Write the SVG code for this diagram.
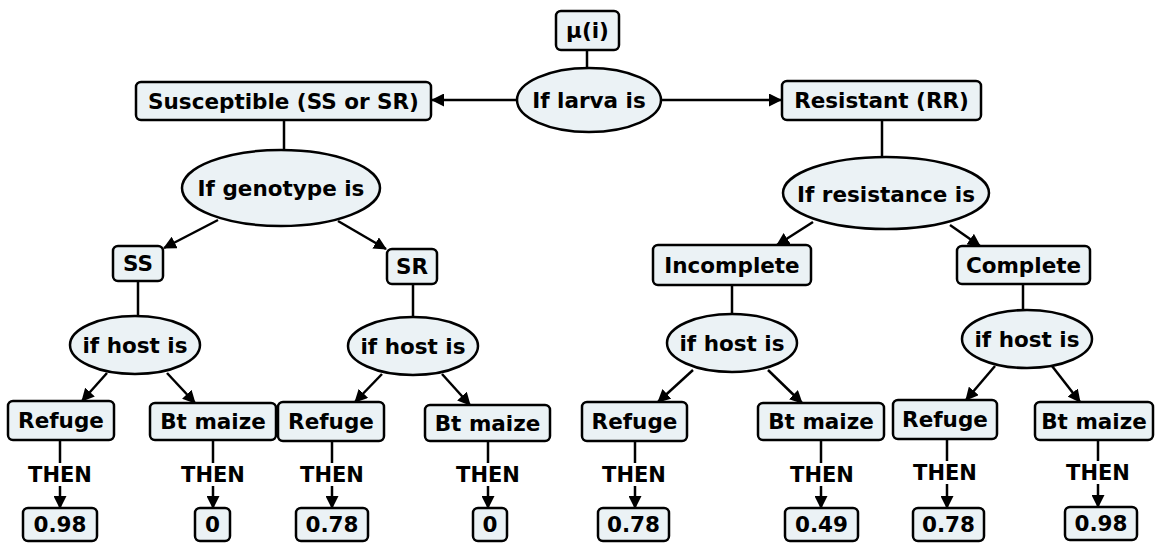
<svg xmlns="http://www.w3.org/2000/svg" width="1157" height="543" viewBox="0 0 1157 543">
<style>
.b{fill:#ebf2f5;stroke:#000;stroke-width:2.5}
.t{font-family:"DejaVu Sans","Liberation Sans",sans-serif;font-weight:bold;font-size:21.5px;text-anchor:middle;dominant-baseline:central;fill:#000}
.l{font-family:"DejaVu Sans","Liberation Sans",sans-serif;font-weight:bold;font-size:21px;text-anchor:middle;fill:#000}
.c{stroke:#000;stroke-width:2.5;fill:none}
.a{stroke:#000;stroke-width:2.5;fill:none;marker-end:url(#ah)}
</style>
<defs>
<marker id="ah" markerWidth="13" markerHeight="13" refX="12" refY="6.5" orient="auto" markerUnits="userSpaceOnUse"><path d="M0,0 L13,6.5 L0,13 z" fill="#000"/></marker>
</defs>
<rect width="1157" height="543" fill="#fff"/>
<g id="connectors">
<line class="c" x1="587" y1="50" x2="587" y2="68"/>
<line class="a" x1="517" y1="100" x2="432" y2="100"/>
<line class="a" x1="661" y1="100" x2="781" y2="100"/>
<line class="c" x1="284" y1="120" x2="284" y2="150"/>
<line class="c" x1="882" y1="120" x2="882" y2="157"/>
<line class="a" x1="218" y1="220" x2="164" y2="248"/>
<line class="a" x1="338" y1="221" x2="386" y2="249"/>
<line class="a" x1="813" y1="222" x2="777" y2="245"/>
<line class="a" x1="950" y1="225" x2="980" y2="246"/>
<line class="c" x1="138" y1="281" x2="138" y2="316"/>
<line class="c" x1="413" y1="284" x2="413" y2="317"/>
<line class="c" x1="732" y1="285" x2="732" y2="314"/>
<line class="c" x1="1023" y1="284" x2="1023" y2="310"/>
<line class="a" x1="107" y1="373" x2="82" y2="401"/>
<line class="a" x1="167" y1="373" x2="195" y2="403"/>
<line class="a" x1="382" y1="374" x2="355" y2="402"/>
<line class="a" x1="442" y1="374" x2="470" y2="405"/>
<line class="a" x1="693" y1="370" x2="658" y2="402"/>
<line class="a" x1="768" y1="370" x2="802" y2="403"/>
<line class="a" x1="995" y1="366" x2="966" y2="400"/>
<line class="a" x1="1052" y1="366" x2="1080" y2="402"/>
<line class="c" x1="60" y1="440" x2="60" y2="463"/><line class="a" x1="60" y1="486" x2="60" y2="508"/><text class="l" x="60" y="482">THEN</text>
<line class="c" x1="213" y1="440" x2="213" y2="463"/><line class="a" x1="213" y1="486" x2="213" y2="508"/><text class="l" x="213" y="482">THEN</text>
<line class="c" x1="332" y1="441" x2="332" y2="463"/><line class="a" x1="332" y1="486" x2="332" y2="508"/><text class="l" x="332" y="482">THEN</text>
<line class="c" x1="488" y1="441" x2="488" y2="463"/><line class="a" x1="488" y1="486" x2="488" y2="508"/><text class="l" x="488" y="482">THEN</text>
<line class="c" x1="635" y1="441" x2="635" y2="463"/><line class="a" x1="635" y1="486" x2="635" y2="508"/><text class="l" x="634" y="482">THEN</text>
<line class="c" x1="821" y1="440" x2="821" y2="463"/><line class="a" x1="821" y1="486" x2="821" y2="508"/><text class="l" x="822" y="482">THEN</text>
<line class="c" x1="947" y1="439" x2="947" y2="461"/><line class="a" x1="947" y1="484" x2="947" y2="508"/><text class="l" x="945" y="480">THEN</text>
<line class="c" x1="1098" y1="440" x2="1098" y2="461"/><line class="a" x1="1098" y1="484" x2="1098" y2="507"/><text class="l" x="1098" y="480">THEN</text>
</g>
<g id="mu"><rect class="b" x="556" y="11" width="63" height="39" rx="5"/><text class="t" x="587.5" y="30.5">μ(i)</text></g>
<g id="larva"><ellipse class="b" cx="589" cy="100" rx="72" ry="32"/><text class="t" x="589" y="100">If larva is</text></g>
<g id="susceptible"><rect class="b" x="136" y="82" width="295" height="38" rx="5"/><text class="t" x="283.5" y="101">Susceptible (SS or SR)</text></g>
<g id="resistant"><rect class="b" x="782" y="81" width="199" height="39" rx="5"/><text class="t" x="881.5" y="100.5">Resistant (RR)</text></g>
<g id="genotype"><ellipse class="b" cx="281" cy="188" rx="99" ry="38"/><text class="t" x="281" y="188">If genotype is</text></g>
<g id="resistance"><ellipse class="b" cx="886" cy="193" rx="103" ry="36"/><text class="t" x="886" y="194">If resistance is</text></g>
<g id="ss"><rect class="b" x="113" y="246" width="50" height="35" rx="5"/><text class="t" x="138" y="263.5">SS</text></g>
<g id="sr"><rect class="b" x="387" y="249" width="50" height="35" rx="5"/><text class="t" x="412" y="266.5">SR</text></g>
<g id="incomplete"><rect class="b" x="653" y="245" width="158" height="40" rx="5"/><text class="t" x="732" y="265">Incomplete</text></g>
<g id="complete"><rect class="b" x="957" y="246" width="133" height="38" rx="5"/><text class="t" x="1023.5" y="265">Complete</text></g>
<g id="host1"><ellipse class="b" cx="135" cy="345" rx="65" ry="29"/><text class="t" x="135" y="345">if host is</text></g>
<g id="host2"><ellipse class="b" cx="413" cy="346" rx="65" ry="29"/><text class="t" x="413" y="346">if host is</text></g>
<g id="host3"><ellipse class="b" cx="732" cy="343" rx="65" ry="29"/><text class="t" x="732" y="343">if host is</text></g>
<g id="host4"><ellipse class="b" cx="1027" cy="339" rx="65" ry="29"/><text class="t" x="1027" y="339">if host is</text></g>
<g id="refuge1"><rect class="b" x="8" y="401" width="106" height="39" rx="5"/><text class="t" x="61" y="420.5">Refuge</text></g>
<g id="bt1"><rect class="b" x="150" y="403" width="126" height="37" rx="5"/><text class="t" x="213" y="421.5">Bt maize</text></g>
<g id="refuge2"><rect class="b" x="278" y="402" width="106" height="39" rx="5"/><text class="t" x="331" y="421.5">Refuge</text></g>
<g id="bt2"><rect class="b" x="425" y="405" width="125" height="36" rx="5"/><text class="t" x="487.5" y="423">Bt maize</text></g>
<g id="refuge3"><rect class="b" x="582" y="402" width="105" height="39" rx="5"/><text class="t" x="634.5" y="421.5">Refuge</text></g>
<g id="bt3"><rect class="b" x="758" y="403" width="126" height="37" rx="5"/><text class="t" x="821" y="421.5">Bt maize</text></g>
<g id="refuge4"><rect class="b" x="893" y="400" width="104" height="39" rx="5"/><text class="t" x="945" y="419.5">Refuge</text></g>
<g id="bt4"><rect class="b" x="1035" y="402" width="118" height="38" rx="5"/><text class="t" x="1094" y="421">Bt maize</text></g>
<g id="v1"><rect class="b" x="23" y="508" width="74" height="33" rx="5"/><text class="t" x="60" y="524.5">0.98</text></g>
<g id="v2"><rect class="b" x="195" y="508" width="35" height="33" rx="5"/><text class="t" x="212.5" y="524.5">0</text></g>
<g id="v3"><rect class="b" x="296" y="508" width="72" height="33" rx="5"/><text class="t" x="332" y="524.5">0.78</text></g>
<g id="v4"><rect class="b" x="473" y="508" width="34" height="33" rx="5"/><text class="t" x="490" y="524.5">0</text></g>
<g id="v5"><rect class="b" x="598" y="508" width="71" height="33" rx="5"/><text class="t" x="633.5" y="524.5">0.78</text></g>
<g id="v6"><rect class="b" x="785" y="508" width="73" height="33" rx="5"/><text class="t" x="821.5" y="524.5">0.49</text></g>
<g id="v7"><rect class="b" x="913" y="508" width="71" height="33" rx="5"/><text class="t" x="948.5" y="524.5">0.78</text></g>
<g id="v8"><rect class="b" x="1065" y="507" width="72" height="33" rx="5"/><text class="t" x="1101" y="523.5">0.98</text></g>
</svg>
